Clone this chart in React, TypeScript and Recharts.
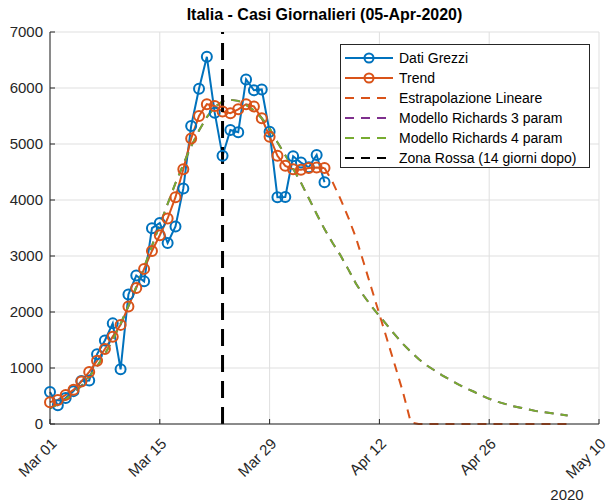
import {
  CartesianGrid,
  ComposedChart,
  Line,
  ReferenceLine,
  XAxis,
  YAxis,
} from "recharts";

const FONT = '"Liberation Sans", Arial, Helvetica, sans-serif';
const AXIS_COLOR = "#262626";

// days since Mar 01
const TICK_DAYS = [0, 14, 28, 42, 56, 70];
const TICK_LABELS = ["Mar 01", "Mar 15", "Mar 29", "Apr 12", "Apr 26", "May 10"];
const Y_TICKS = [0, 1000, 2000, 3000, 4000, 5000, 6000, 7000];

// Dati Grezzi, Mar 01 .. Apr 05
const RAW = [
  573, 335, 466, 587, 769, 778, 1247, 1492, 1797, 977, 2313, 2651, 2547, 3497, 3590, 3233,
  3526, 4207, 5322, 5986, 6557, 5560, 4789, 5249, 5210, 6153, 5959, 5974, 5217, 4050, 4053,
  4782, 4668, 4585, 4805, 4316,
];

// Trend, Mar 01 .. Apr 05
const TREND = [
  390, 430, 520, 610, 760, 930, 1130, 1340, 1560, 1770, 2100, 2430, 2770, 3090, 3370, 3670,
  4050, 4550, 5100, 5500, 5710, 5680, 5580, 5550, 5620, 5710, 5670, 5460, 5130, 4790, 4610,
  4550, 4540, 4570, 4580, 4570,
];

// Estrapolazione Lineare, Apr 05 .. May 06
const EXTRAP_START = 35;
const EXTRAP = [
  4570, 4330, 4030, 3700, 3330, 2880, 2420, 1960, 1500, 1040, 570, 30, 0, 0, 0, 0, 0, 0, 0, 0,
  0, 0, 0, 0, 0, 0, 0, 0, 0, 0, 0, 0,
];

// Modello Richards (3 and 4 param overlap), Mar 01 .. May 06
const RICHARDS = [
  280, 350, 440, 550, 680, 840, 1030, 1250, 1500, 1790, 2110, 2450, 2800, 3180, 3560, 3930,
  4300, 4640, 4960, 5240, 5480, 5660, 5760, 5790, 5770, 5700, 5600, 5460, 5280, 5030, 4800,
  4560, 4310, 4030, 3750, 3480, 3240, 3020, 2770, 2510, 2290, 2100, 1930, 1760, 1590, 1430,
  1290, 1160, 1050, 960, 870, 790, 710, 640, 580, 510, 450, 400, 360, 320, 290, 260, 230,
  210, 190, 170, 150,
];

const ZONA_ROSSA_DAY = 22;

const rows = RICHARDS.map((r, day) => ({
  day,
  raw: day < RAW.length ? RAW[day] : null,
  trend: day < TREND.length ? TREND[day] : null,
  extrap: day >= EXTRAP_START ? EXTRAP[day - EXTRAP_START] : null,
  r3: r,
  r4: r,
}));

const LEGEND = [
  { label: "Dati Grezzi", color: "#0072BD", dash: undefined, marker: true },
  { label: "Trend", color: "#D95319", dash: undefined, marker: true },
  { label: "Estrapolazione Lineare", color: "#D95319", dash: "9 7", marker: false },
  { label: "Modello Richards 3 param", color: "#7E2F8E", dash: "9 7", marker: false },
  { label: "Modello Richards 4 param", color: "#77AC30", dash: "9 7", marker: false },
  { label: "Zona Rossa (14 giorni dopo)", color: "#000000", dash: "9 7", marker: false },
];

function DateTick({ x, y, payload }: { x?: number; y?: number; payload?: { value: number } }) {
  const i = TICK_DAYS.indexOf(payload?.value ?? -1);
  const ax = (x ?? 0) + 4;
  const ay = (y ?? 0) + 17;
  return (
    <text
      x={ax}
      y={ay}
      transform={`rotate(-45, ${ax}, ${ay})`}
      textAnchor="end"
      dy="0.35em"
      fontSize={15}
      fontFamily={FONT}
      fill={AXIS_COLOR}
    >
      {TICK_LABELS[i]}
    </text>
  );
}

function LegendBox() {
  return (
    <div
      style={{
        position: "absolute",
        left: 340,
        top: 44,
        width: 250,
        height: 124,
        boxSizing: "border-box",
        border: `1px solid ${AXIS_COLOR}`,
        background: "#fff",
        fontFamily: FONT,
        fontSize: 14,
        color: "#000",
      }}
    >
      {LEGEND.map((l, i) => (
        <div
          key={i}
          style={{
            position: "absolute",
            left: 0,
            top: 3 + i * 20,
            height: 20,
            display: "flex",
            alignItems: "center",
          }}
        >
          <svg width={58} height={20} style={{ display: "block" }}>
            <line
              x1={4}
              x2={52}
              y1={10}
              y2={10}
              stroke={l.color}
              strokeWidth={2}
              strokeDasharray={l.dash}
            />
            {l.marker && <circle cx={28} cy={10} r={4.5} fill="none" stroke={l.color} strokeWidth={2} />}
          </svg>
          <span style={{ whiteSpace: "nowrap" }}>{l.label}</span>
        </div>
      ))}
    </div>
  );
}

export default function App() {
  return (
    <div style={{ position: "absolute", left: 0, top: 0, width: 609, height: 503, background: "#fff" }}>
      <div
        style={{
          position: "absolute",
          left: 50,
          width: 549,
          top: 6,
          textAlign: "center",
          fontFamily: FONT,
          fontWeight: "bold",
          fontSize: 16,
          color: "#000",
        }}
      >
        Italia - Casi Giornalieri (05-Apr-2020)
      </div>
      <ComposedChart
        width={609}
        height={503}
        data={rows}
        margin={{ top: 32, right: 10, bottom: 0, left: 0 }}
      >
        <CartesianGrid stroke="#dfdfdf" strokeWidth={1} />
        <XAxis
          dataKey="day"
          type="number"
          domain={[0, 70]}
          ticks={TICK_DAYS}
          interval={0}
          height={79}
          tick={<DateTick />}
          tickSize={-5}
          tickMargin={5}
          stroke={AXIS_COLOR}
          axisLine={{ stroke: AXIS_COLOR }}
          tickLine={{ stroke: AXIS_COLOR }}
        />
        <XAxis
          xAxisId="top"
          orientation="top"
          type="number"
          domain={[0, 70]}
          ticks={TICK_DAYS}
          height={0}
          tick={false}
          tickSize={-5}
          stroke={AXIS_COLOR}
        />
        <YAxis
          type="number"
          domain={[0, 7000]}
          ticks={Y_TICKS}
          interval={0}
          width={50}
          tickSize={-5}
          tickMargin={12}
          tick={{ fontSize: 15, fontFamily: FONT, fill: AXIS_COLOR }}
          stroke={AXIS_COLOR}
        />
        <YAxis
          yAxisId="right"
          orientation="right"
          type="number"
          domain={[0, 7000]}
          ticks={Y_TICKS}
          width={0}
          tick={false}
          tickSize={-5}
          stroke={AXIS_COLOR}
        />
        <Line
          dataKey="raw"
          stroke="#0072BD"
          strokeWidth={2}
          dot={{ r: 5, strokeWidth: 2, fill: "none", stroke: "#0072BD" }}
          activeDot={false}
          connectNulls={false}
          isAnimationActive={false}
        />
        <Line
          dataKey="trend"
          stroke="#D95319"
          strokeWidth={2}
          dot={{ r: 5, strokeWidth: 2, fill: "none", stroke: "#D95319" }}
          activeDot={false}
          isAnimationActive={false}
        />
        <Line
          dataKey="extrap"
          stroke="#D95319"
          strokeWidth={2}
          strokeDasharray="9 7"
          dot={false}
          activeDot={false}
          isAnimationActive={false}
        />
        <Line
          dataKey="r3"
          stroke="#7E2F8E"
          strokeWidth={2}
          strokeDasharray="9 7"
          dot={false}
          activeDot={false}
          isAnimationActive={false}
        />
        <Line
          dataKey="r4"
          stroke="#77AC30"
          strokeWidth={2}
          strokeDasharray="9 7"
          dot={false}
          activeDot={false}
          isAnimationActive={false}
        />
        <ReferenceLine x={ZONA_ROSSA_DAY} stroke="#000" strokeWidth={3} strokeDasharray="17 9" />
      </ComposedChart>
      <div
        style={{
          position: "absolute",
          left: 540,
          width: 54,
          top: 486,
          textAlign: "center",
          fontFamily: FONT,
          fontSize: 15,
          color: AXIS_COLOR,
        }}
      >
        2020
      </div>
      <LegendBox />
    </div>
  );
}
